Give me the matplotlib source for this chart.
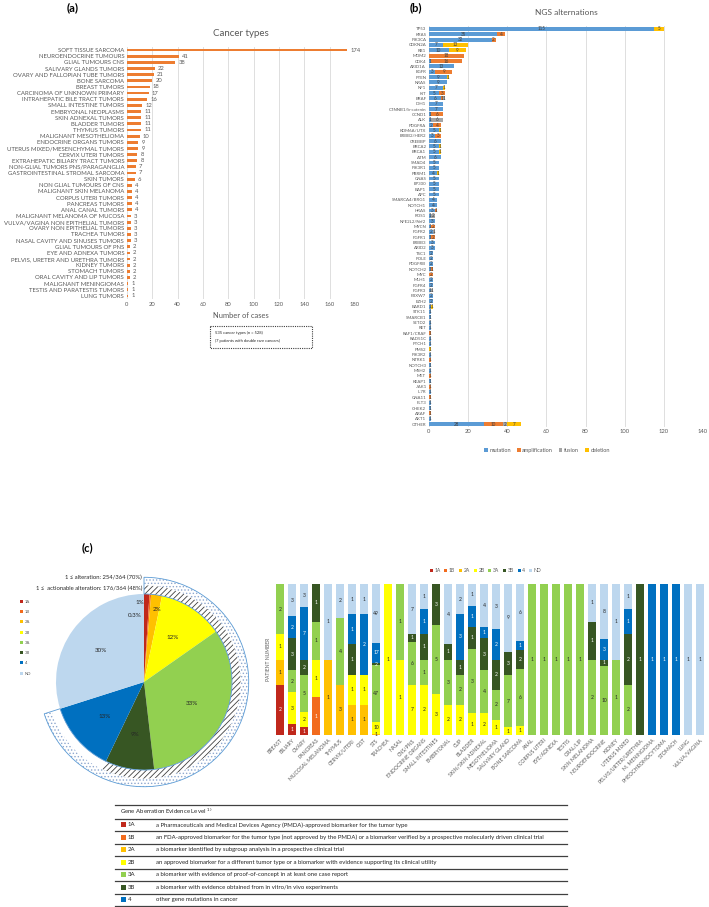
import matplotlib
matplotlib.use("Agg")
import matplotlib.pyplot as plt
from matplotlib.patches import Wedge, Rectangle
from matplotlib.lines import Line2D
import numpy as np

plt.rcParams['font.family'] = ['Lato', 'DejaVu Sans']
plt.rcParams['hatch.linewidth'] = 0.6

W, H = 709, 907
GRAY = '#595959'

# ---------------- data: (a) cancer types ----------------
cancer_types = ['SOFT TISSUE SARCOMA', 'NEUROENDOCRINE TUMOURS', 'GLIAL TUMOURS CNS',
                'SALIVARY GLANDS TUMORS', 'OVARY AND FALLOPIAN TUBE TUMORS', 'BONE SARCOMA',
                'BREAST TUMORS', 'CARCINOMA OF UNKNOWN PRIMARY', 'INTRAHEPATIC BILE TRACT TUMORS',
                'SMALL INTESTINE TUMORS', 'EMBRYONAL NEOPLASMS', 'SKIN ADNEXAL TUMORS',
                'BLADDER TUMORS', 'THYMUS TUMORS', 'MALIGNANT MESOTHELIOMA',
                'ENDOCRINE ORGANS TUMORS', 'UTERUS MIXED/MESENCHYMAL TUMORS', 'CERVIX UTERI TUMORS',
                'EXTRAHEPATIC BILIARY TRACT TUMORS', 'NON-GLIAL TUMORS PNS/PARAGANGLIA',
                'GASTROINTESTINAL STROMAL SARCOMA', 'SKIN TUMORS', 'NON GLIAL TUMOURS OF CNS',
                'MALIGNANT SKIN MELANOMA', 'CORPUS UTERI TUMORS', 'PANCREAS TUMORS',
                'ANAL CANAL TUMORS', 'MALIGNANT MELANOMA OF MUCOSA', 'VULVA/VAGINA NON EPITHELIAL TUMORS',
                'OVARY NON EPITHELIAL TUMORS', 'TRACHEA TUMORS', 'NASAL CAVITY AND SINUSES TUMORS',
                'GLIAL TUMOURS OF PNS', 'EYE AND ADNEXA TUMORS', 'PELVIS, URETER AND URETHRA TUMORS',
                'KIDNEY TUMORS', 'STOMACH TUMORS', 'ORAL CAVITY AND LIP TUMORS',
                'MALIGNANT MENINGIOMAS', 'TESTIS AND PARATESTIS TUMORS', 'LUNG TUMORS']
cancer_counts = [174, 41, 38, 22, 21, 20, 18, 17, 16, 12, 11, 11, 11, 11, 10, 9, 9, 8, 8, 7, 7, 6,
                 4, 4, 4, 4, 4, 3, 3, 3, 3, 3, 2, 2, 2, 2, 2, 2, 1, 1, 1]

# ---------------- data: (b) NGS alterations ----------------
genes = ['TP53', 'KRAS', 'PIK3CA', 'CDKN2A', 'RB1', 'MDM2', 'CDK4', 'ARID1A', 'EGFR', 'PTEN',
         'NRAS', 'NF1', 'KIT', 'BRAF', 'IDH1', 'CTNNB1/b-catenin', 'CCND1', 'ALK', 'PDGFRA',
         'KDM6A/UTX', 'ERBB2/HER2', 'CREBBP', 'BRCA2', 'BRCA1', 'ATM', 'SMAD4', 'PIK3R1', 'PBRM1',
         'GNAS', 'EP300', 'BAP1', 'APC', 'SMARCA4/BRG1', 'NOTCH1', 'HRAS', 'ROS1', 'NFE2L2/Nrf2',
         'MYCN', 'FGFR2', 'FGFR1', 'ERBB3', 'ARID2', 'TSC1', 'POLE', 'PDGFRB', 'NOTCH2', 'MYC',
         'MLH1', 'FGFR4', 'FGFR3', 'FBXW7', 'EZH2', 'BARD1', 'STK11', 'SMARCB1', 'SETD2', 'RET',
         'RAF1/CRAF', 'RAD51C', 'PTCH1', 'PMS2', 'PIK3R2', 'NTRK1', 'NOTCH3', 'MSH2', 'MET',
         'KEAP1', 'JAK1', 'IL7R', 'GNA11', 'FLT3', 'CHEK2', 'ARAF', 'AKT1', 'OTHER']
mutation = [115, 35, 32, 7, 10, 0, 1, 13, 3, 9, 9, 7, 5, 6, 7, 7, 1, 1, 2, 5, 3, 6, 5, 5, 6,
            5, 5, 4, 5, 5, 5, 5, 4, 4, 3, 1, 3, 1, 2, 1, 3, 3, 2, 2, 2, 1, 0, 2, 2, 1, 2, 2, 1,
            1, 1, 1, 1, 0, 1, 1, 0, 1, 0, 1, 1, 0, 1, 0, 1, 0, 1, 1, 0, 1, 28]
amplification = [0, 4, 2, 0, 0, 18, 16, 0, 9, 0, 0, 0, 3, 1, 0, 0, 6, 0, 4, 0, 3, 0, 0, 0, 0,
                 0, 0, 0, 0, 0, 0, 0, 0, 0, 1, 0, 0, 2, 0, 2, 0, 0, 0, 0, 0, 1, 2, 0, 0, 0, 0, 0, 0,
                 0, 0, 0, 0, 1, 0, 0, 0, 0, 1, 0, 0, 1, 0, 1, 0, 1, 0, 0, 1, 0, 10]
fusion = [0, 0, 0, 0, 0, 0, 0, 0, 0, 0, 0, 0, 0, 1, 0, 0, 0, 6, 0, 0, 0, 0, 0, 0, 0,
          0, 0, 0, 0, 0, 0, 0, 0, 0, 0, 2, 0, 0, 1, 0, 0, 0, 0, 0, 0, 0, 0, 0, 0, 1, 0, 0, 0,
          0, 0, 0, 0, 0, 0, 0, 0, 0, 0, 0, 0, 0, 0, 0, 0, 0, 0, 0, 0, 0, 2]
deletion = [5, 0, 0, 13, 9, 0, 0, 0, 0, 1, 0, 1, 0, 0, 0, 0, 0, 0, 0, 1, 0, 0, 1, 1, 0,
            0, 0, 1, 0, 0, 0, 0, 0, 0, 0, 0, 0, 0, 0, 0, 0, 0, 0, 0, 0, 0, 0, 0, 0, 0, 0, 0, 1,
            0, 0, 0, 0, 0, 0, 0, 1, 0, 0, 0, 0, 0, 0, 0, 0, 0, 0, 0, 0, 0, 7]

# ---------------- data: (c) evidence levels ----------------
levels = ['1A', '1B', '2A', '2B', '3A', '3B', '4', 'ND']
level_colors = ['#C0281C', '#F26B1D', '#FFC000', '#FFFF00', '#92D050', '#375623', '#0070C0', '#BDD7EE']
pie_pct = [1, 0.3, 2, 12, 33, 9, 13, 30]
pie_labels = ['1%', '0.3%', '2%', '12%', '33%', '9%', '13%', '30%']

organs = ['BREAST', 'BILIARY', 'OVARY', 'PANCREAS', 'MUCOSAL MELANOMA', 'THYMUS', 'CERVIX/UTERI',
          'GIST', 'STS', 'TRACHEA', 'NASAL', 'CNS/PNS', 'ENDOCRINE ORGANS', 'SMALL INTESTINES',
          'EMBRYONAL', 'CUP', 'BLADDER', 'SKIN/SKIN ADNEXAL', 'MESOTHELIOMA', 'SALIVARY GLAND',
          'BONE SARCOMA', 'ANAL', 'CORPUS UTERI', 'EYE/ADNEXA', 'TESTIS', 'ORAL/LIP',
          'SKIN MELANOMA', 'NEUROENDOCRINE', 'KIDNEY', 'UTERUS MIXED', 'PELVIS/URTER/URETHRA',
          'M. MENINGIOMA', 'PHEOCHROMOCYTOMA', 'STOMACH', 'LUNG', 'VULVA/VAGINA']
n_1A = [2, 1, 1, 0, 0, 0, 0, 0, 0, 0, 0, 0, 0, 0, 0, 0, 0, 0, 0, 0, 0, 0, 0, 0, 0, 0, 0, 0, 0, 0, 0, 0, 0, 0, 0, 0]
n_1B = [0, 0, 0, 1, 0, 0, 0, 0, 0, 0, 0, 0, 0, 0, 0, 0, 0, 0, 0, 0, 0, 0, 0, 0, 0, 0, 0, 0, 0, 0, 0, 0, 0, 0, 0, 0]
n_2A = [1, 0, 0, 0, 1, 3, 1, 1, 1, 0, 0, 0, 0, 0, 0, 0, 0, 0, 0, 0, 0, 0, 0, 0, 0, 0, 0, 0, 0, 0, 0, 0, 0, 0, 0, 0]
n_2B = [1, 3, 2, 1, 0, 0, 1, 1, 10, 1, 1, 7, 2, 3, 2, 2, 1, 2, 1, 1, 1, 0, 0, 0, 0, 0, 0, 0, 0, 0, 0, 0, 0, 0, 0, 0]
n_3A = [2, 2, 5, 1, 0, 4, 0, 0, 47, 0, 1, 6, 1, 5, 3, 2, 3, 4, 2, 7, 6, 1, 1, 1, 1, 1, 2, 10, 1, 2, 0, 0, 0, 0, 0, 0]
n_3B = [0, 3, 2, 1, 0, 0, 1, 0, 2, 0, 0, 1, 1, 3, 1, 1, 1, 3, 2, 3, 2, 0, 0, 0, 0, 0, 1, 1, 0, 2, 1, 0, 0, 0, 0, 0]
n_4 = [0, 2, 7, 0, 0, 0, 1, 2, 17, 0, 0, 0, 1, 0, 0, 3, 1, 1, 2, 0, 1, 0, 0, 0, 0, 0, 0, 3, 0, 1, 0, 1, 1, 1, 0, 0]
n_ND = [0, 3, 3, 0, 1, 2, 1, 1, 49, 0, 0, 7, 1, 0, 4, 2, 1, 4, 3, 9, 6, 0, 0, 0, 0, 0, 1, 8, 1, 1, 0, 0, 0, 0, 1, 1]

level_desc = ['a Pharmaceuticals and Medical Devices Agency (PMDA)-approved biomarker for the tumor type',
              'an FDA-approved biomarker for the tumor type (not approved by the PMDA) or a biomarker verified by a prospective molecularly driven clinical trial',
              'a biomarker identified by subgroup analysis in a prospective clinical trial',
              'an approved biomarker for a different tumor type or a biomarker with evidence supporting its clinical utility',
              'a biomarker with evidence of proof-of-concept in at least one case report',
              'a biomarker with evidence obtained from in vitro/in vivo experiments',
              'other gene mutations in cancer']


def px_axes(fig, left, top, right, bottom):
    return fig.add_axes([left / W, 1 - bottom / H, (right - left) / W, (bottom - top) / H])


fig = plt.figure(figsize=(W / 100, H / 100), dpi=100)

# ---------------- (a) ----------------
ax = px_axes(fig, 127, 47, 355, 299)
ya = np.arange(len(cancer_types))
ax.barh(ya, cancer_counts, height=0.45, color='#ED7D31', zorder=3)
ax.set_ylim(len(ya) - 0.5, -0.5)
ax.set_xlim(0, 180)
ax.set_xticks(range(0, 181, 20))
ax.set_yticks(ya)
ax.set_yticklabels(cancer_types, color=GRAY)
ax.tick_params(length=0, pad=2, labelsize=4.2, labelcolor=GRAY)
ax.tick_params(axis='y', labelsize=4.3)
ax.grid(axis='x', color='#D9D9D9', lw=0.6)
for s in ax.spines.values():
    s.set_visible(False)
for yi, v in zip(ya, cancer_counts):
    ax.text(v + 2.5, yi, str(v), va='center', ha='left', fontsize=4.2, color=GRAY)
ax.set_xlabel('Number of cases', fontsize=5.4, color=GRAY, labelpad=4)
ax.set_title('Cancer types', fontsize=7, color=GRAY, pad=8)

# ---------------- (b) ----------------
ax = px_axes(fig, 429, 26.3, 703, 426.7)
yb = np.arange(len(genes))
alt_names = ['mutation', 'amplification', 'fusion', 'deletion']
alt_colors = ['#5B9BD5', '#ED7D31', '#A5A5A5', '#FFC000']
left = np.zeros(len(genes))
for name, vals, col in zip(alt_names, [mutation, amplification, fusion, deletion], alt_colors):
    vals = np.array(vals, dtype=float)
    ax.barh(yb, vals, left=left, height=0.72, color=col, label=name, zorder=3)
    for yi, l, v in zip(yb, left, vals):
        if v > 0:
            ax.text(l + v / 2, yi, str(int(v)), ha='center', va='center', fontsize=3.3,
                    color='#404040', zorder=4)
    left += vals
ax.set_ylim(len(yb) - 0.5, -0.5)
ax.set_xlim(0, 140)
ax.set_xticks(range(0, 141, 20))
ax.set_yticks(yb)
ax.set_yticklabels(genes, fontsize=3.2, color=GRAY)
ax.tick_params(length=0, pad=2, labelcolor=GRAY)
ax.tick_params(axis='x', labelsize=4.2)
ax.grid(axis='x', color='#D9D9D9', lw=0.6)
for s in ax.spines.values():
    s.set_visible(False)
ax.set_title('NGS alternations', fontsize=6, color=GRAY, pad=8)
ax.legend(loc='upper center', bbox_to_anchor=(0.43, -0.04), ncol=4, frameon=False,
          fontsize=4, handlelength=0.7, handleheight=0.7, handletextpad=0.3,
          columnspacing=1.0, labelcolor=GRAY)

# ---------------- (c) pie ----------------
ax = px_axes(fig, 34, 572, 254, 792)
wedges, _ = ax.pie(pie_pct, colors=level_colors, startangle=90, counterclock=False,
                   radius=1.0, wedgeprops=dict(lw=0))
ax.set_xlim(-1.25, 1.25)
ax.set_ylim(-1.25, 1.25)
ax.set_aspect('equal')
cum = np.cumsum(pie_pct) / np.sum(pie_pct)
alt_frac = cum[6]
act_frac = cum[5]
ax.add_patch(Wedge((0, 0), 1.10, 90 - 360 * act_frac, 90, width=0.10, facecolor='white',
                   edgecolor='#404040', hatch='//////', lw=0))
ax.add_patch(Wedge((0, 0), 1.19, 90 - 360 * alt_frac, 90, width=0.09, facecolor='white',
                   edgecolor='#8FA8CF', hatch='.....', lw=0))
ax.add_patch(Wedge((0, 0), 1.19, 90 - 360 * alt_frac, 90, width=0.19, fill=False,
                   edgecolor='#5B9BD5', lw=0.6))
manual = {0: (-0.05, 0.9), 1: (-0.10, 0.76), 2: (0.15, 0.82)}
for i, (w, lab) in enumerate(zip(wedges, pie_labels)):
    if i in manual:
        x, y = manual[i]
    else:
        ang = np.deg2rad((w.theta1 + w.theta2) / 2)
        x, y = 0.6 * np.cos(ang), 0.6 * np.sin(ang)
    ax.text(x, y, lab, ha='center', va='center', fontsize=4.5, color='#262626')
fig.legend(wedges, levels, loc='upper left', bbox_to_anchor=(16 / W, 1 - 596 / H),
           frameon=False, fontsize=3.1, handlelength=0.7, handleheight=0.7,
           handletextpad=0.4, labelspacing=1.45, labelcolor=GRAY)

# ---------------- (c) stacked bars ----------------
ax = px_axes(fig, 274, 584, 706, 735)
counts = np.array([n_1A, n_1B, n_2A, n_2B, n_3A, n_3B, n_4, n_ND], dtype=float)
totals = counts.sum(axis=0)
xc = np.arange(len(organs))
bottom = np.zeros(len(organs))
for lev, col, row in zip(levels, level_colors, counts):
    frac = row / totals
    ax.bar(xc, frac, bottom=bottom, width=0.62, color=col, label=lev)
    txt_col = 'white' if lev in ('1A', '1B', '3B', '4') else '#262626'
    for xi, b, f, n in zip(xc, bottom, frac, row):
        if n > 0:
            ax.text(xi, b + f / 2, str(int(n)), ha='center', va='center', fontsize=3.6,
                    color=txt_col)
    bottom += frac
ax.set_xlim(-0.5, len(organs) - 0.5)
ax.set_ylim(0, 1)
ax.set_yticks([])
ax.set_xticks(xc)
ax.set_xticklabels(organs, rotation=45, ha='right', rotation_mode='anchor', fontsize=3.7,
                   color=GRAY)
ax.tick_params(length=0, pad=2)
for s in ax.spines.values():
    s.set_visible(False)
ax.set_ylabel('PATIENT NUMBER', fontsize=3.6, color=GRAY, labelpad=2)
ax.legend(loc='lower center', bbox_to_anchor=(0.49, 1.04), ncol=8, frameon=False,
          fontsize=3.6, handlelength=0.6, handleheight=0.6, handletextpad=0.3,
          columnspacing=0.8, labelcolor=GRAY)

# ---------------- overlay: labels, box, table ----------------
ov = px_axes(fig, 0, 0, W, H)
ov.set_xlim(0, W)
ov.set_ylim(H, 0)
ov.axis('off')
ov.patch.set_alpha(0)
ov.text(73, 8, '(a)', fontsize=8, fontweight='bold', ha='center', va='center')
ov.text(416, 8, '(b)', fontsize=8, fontweight='bold', ha='center', va='center')
ov.text(87, 548, '(c)', fontsize=8, fontweight='bold', ha='center', va='center')

ov.add_patch(Rectangle((210, 326), 102, 22, fill=False, ls=(0, (1, 1)), lw=0.8, ec='#404040'))
ov.text(215, 332.5, '535 cancer types (n = 528)', fontsize=3, va='center', color='#262626')
ov.text(215, 340.5, '(7 patients with double rare cancers)', fontsize=3, va='center', color='#262626')

ov.text(142, 577, '1 \u2264 alteration: 254/364 (70%)', fontsize=4.2, ha='right', va='center',
        color='#262626')
ov.text(142, 588, '1 \u2264  actionable alteration: 176/364 (48%)', fontsize=4.2, ha='right',
        va='center', color='#262626')

t_left, t_right = 115, 567
row_lines = [805, 818.5, 831, 843.5, 856, 868.5, 881, 893.5, 906]
for yl in row_lines:
    ov.add_line(Line2D([t_left, t_right], [yl, yl], color='#404040', lw=0.9))
ov.text(t_left + 5, (row_lines[0] + row_lines[1]) / 2, 'Gene Aberration Evidence Level $^{1)}$',
        fontsize=4.3, va='center', color='#262626')
for i, (lev, col, desc) in enumerate(zip(levels[:7], level_colors[:7], level_desc)):
    yc = (row_lines[i + 1] + row_lines[i + 2]) / 2
    ov.add_patch(Rectangle((t_left + 6, yc - 2.3), 5, 4.6, color=col, lw=0))
    ov.text(t_left + 12.5, yc, lev, fontsize=4.3, va='center', color='#262626')
    ov.text(156, yc, desc, fontsize=4.3, va='center', color='#262626')

fig.savefig('out.png', dpi=100)
